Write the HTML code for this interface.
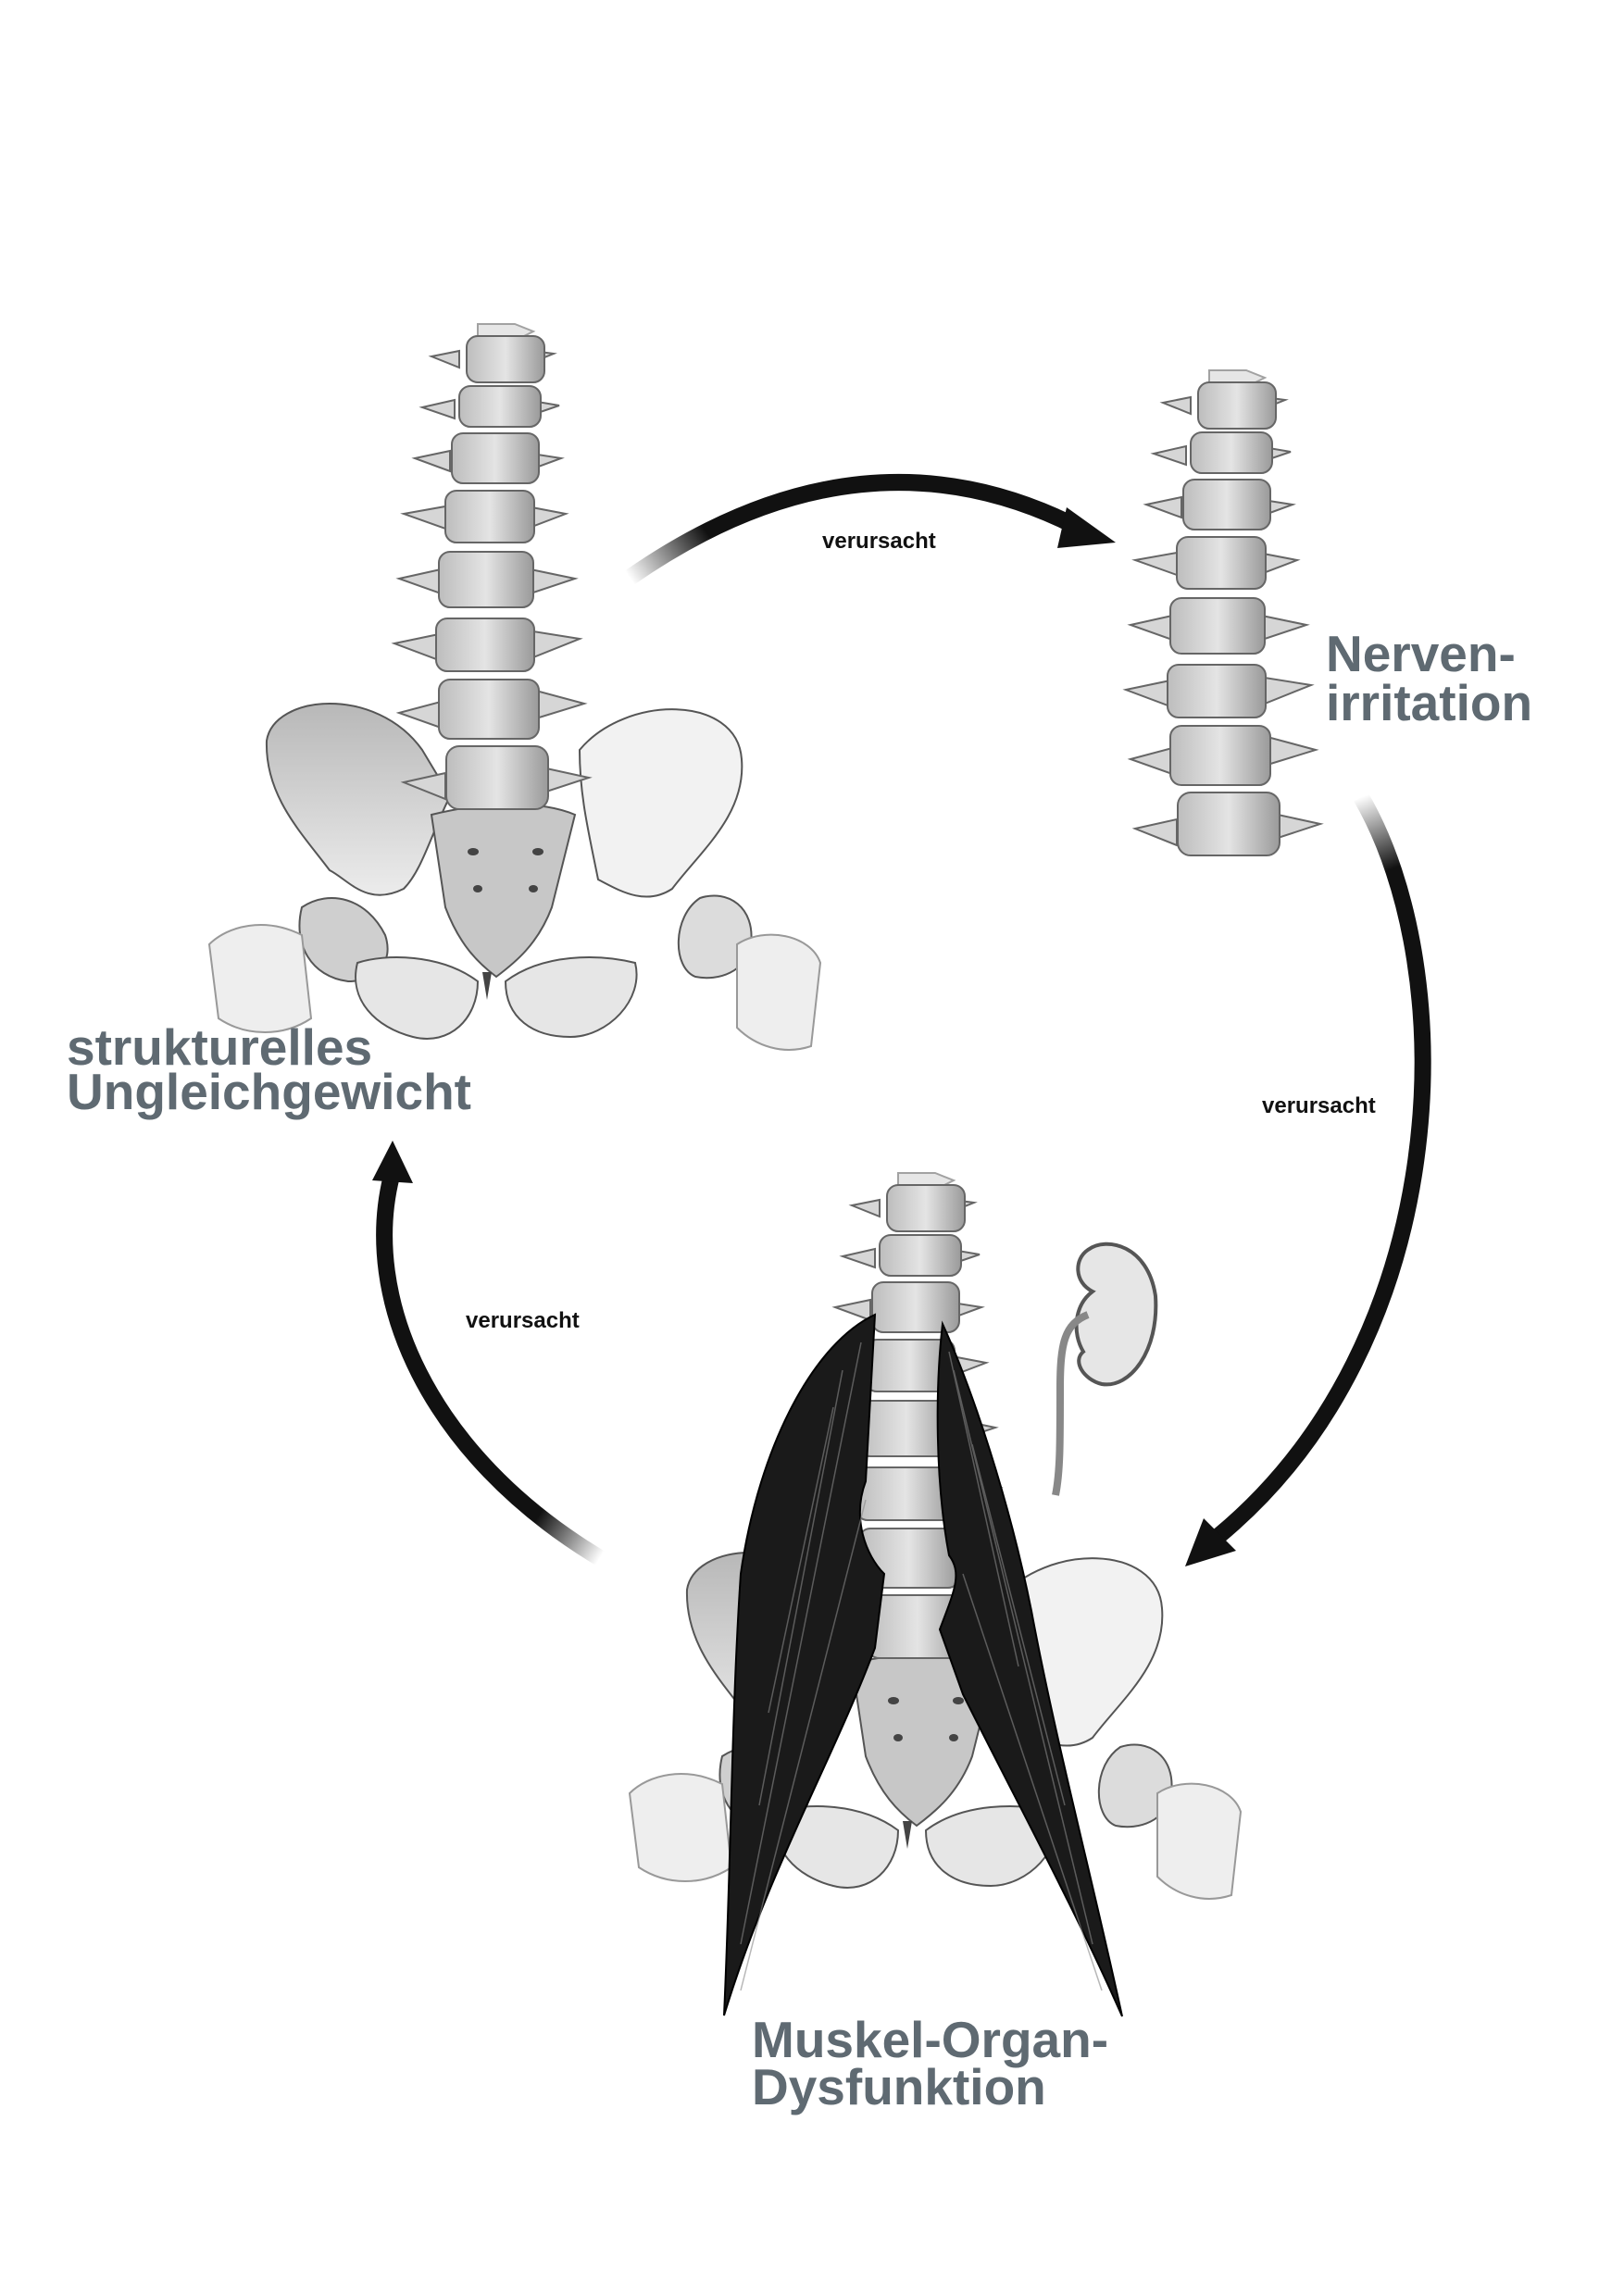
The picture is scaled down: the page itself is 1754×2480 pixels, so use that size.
<!DOCTYPE html>
<html><head><meta charset="utf-8"><style>
html,body{margin:0;padding:0;background:#fff}
svg{display:block}
.t{font-family:"Liberation Sans",sans-serif;font-weight:bold;fill:#5f6a72;font-size:55px}
.s{font-family:"Liberation Sans",sans-serif;font-weight:bold;fill:#111;font-size:24px}
</style></head><body>
<svg width="1754" height="2480" viewBox="0 0 1754 2480" xmlns="http://www.w3.org/2000/svg">
<defs>
<linearGradient id="vb" x1="0" y1="0" x2="1" y2="0">
<stop offset="0" stop-color="#bdbdbd"/><stop offset=".5" stop-color="#e4e4e4"/><stop offset="1" stop-color="#9a9a9a"/>
</linearGradient>
<linearGradient id="pb" x1="0" y1="0" x2="0" y2="1">
<stop offset="0" stop-color="#b8b8b8"/><stop offset="1" stop-color="#ececec"/>
</linearGradient>
<g id="spine" stroke="#666" stroke-width="2">
<g fill="#d6d6d6">
<path d="M-10,10 h40 l20,8 -20,10 h-40z" opacity=".6"/>
<path d="M-60,45 l30,-6 v18z M72,42 l-30,-4 v16z"/>
<path d="M-70,100 l35,-8 v20z M78,98 l-35,-6 v18z"/>
<path d="M-78,155 l38,-8 v22z M80,155 l-38,-6 v20z"/>
<path d="M-90,215 l45,-8 v24z M85,215 l-42,-8 v24z"/>
<path d="M-95,285 l45,-10 v26z M95,285 l-48,-10 v26z"/>
<path d="M-100,355 l48,-10 v28z M100,350 l-50,-8 v28z"/>
<path d="M-95,430 l45,-12 v28z M105,420 l-52,-14 v30z"/>
<path d="M-90,505 l45,-10 v28z M110,500 l-55,-12 v30z"/>
</g>
<g fill="url(#vb)">
<rect x="-22" y="23" width="84" height="50" rx="12"/>
<rect x="-30" y="77" width="88" height="44" rx="12"/>
<rect x="-38" y="128" width="94" height="54" rx="12"/>
<rect x="-45" y="190" width="96" height="56" rx="12"/>
<rect x="-52" y="256" width="102" height="60" rx="12"/>
<rect x="-55" y="328" width="106" height="57" rx="12"/>
<rect x="-52" y="394" width="108" height="64" rx="12"/>
<rect x="-44" y="466" width="110" height="68" rx="14"/>
</g>
</g>
<g id="pelvis" stroke="#555" stroke-width="2">
<path d="M-238,460 C-230,410 -120,400 -70,470 L-40,520 C-60,560 -70,600 -90,620 C-130,640 -150,610 -170,600 C-200,560 -240,520 -238,460Z" fill="url(#pb)"/>
<path d="M100,470 C150,410 270,410 275,480 C280,540 230,580 200,620 C170,640 140,620 120,610 C110,560 100,520 100,470Z" fill="#f2f2f2"/>
<path d="M-60,540 C0,525 60,525 95,540 L70,640 C55,680 30,700 10,715 C-10,700 -30,680 -45,640Z" fill="#c7c7c7"/>
<path d="M-200,640 C-170,620 -130,630 -110,670 C-100,700 -120,720 -150,720 C-190,715 -210,680 -200,640Z" fill="#cfcfcf"/>
<path d="M230,630 C260,620 290,640 285,680 C280,710 250,720 225,715 C200,705 200,650 230,630Z" fill="#dcdcdc"/>
<path d="M-140,700 C-110,690 -50,690 -10,720 C-10,760 -40,790 -80,780 C-120,770 -150,740 -140,700Z" fill="#e6e6e6"/>
<path d="M20,720 C60,690 120,690 160,700 C170,740 130,780 90,780 C50,780 20,760 20,720Z" fill="#e6e6e6"/>
<path d="M-300,680 C-280,660 -240,650 -200,670 L-190,760 C-220,780 -260,780 -290,760Z" fill="#eee" stroke="#999"/>
<path d="M270,680 C300,660 350,670 360,700 L350,790 C320,800 290,790 270,770Z" fill="#eee" stroke="#999"/>
<g fill="#444" stroke="none">
<ellipse cx="-15" cy="580" rx="6" ry="4"/><ellipse cx="55" cy="580" rx="6" ry="4"/>
<ellipse cx="-10" cy="620" rx="5" ry="4"/><ellipse cx="50" cy="620" rx="5" ry="4"/>
<path d="M-5,710 l10,0 -5,30z"/>
</g>
</g>
</defs>

<g transform="translate(526,340)">
<use href="#pelvis"/>
<use href="#spine"/>
</g>
<g transform="translate(1316,390)">
<use href="#spine"/>
</g>
<g transform="translate(980,1257)">
<use href="#pelvis"/>
<use href="#spine"/>
</g>

<path d="M945,1420 C880,1450 820,1560 800,1700 C790,1850 790,2000 782,2177 C830,2020 900,1900 945,1780 L955,1700 C935,1680 920,1640 935,1600 Z" fill="#1a1a1a" stroke="#000" stroke-width="2"/>
<path d="M1018,1430 C1050,1500 1090,1620 1114,1740 C1140,1880 1180,2030 1212,2178 C1160,2060 1100,1950 1040,1830 L1015,1760 C1030,1720 1040,1700 1025,1680 C1010,1600 1010,1500 1018,1430Z" fill="#1a1a1a" stroke="#000" stroke-width="2"/>
<g stroke="#888" stroke-width="1.5" opacity=".6" fill="none">
<path d="M930,1450 L800,2100"/><path d="M910,1480 L820,1950"/><path d="M900,1520 L830,1850"/><path d="M935,1620 L800,2150"/>
<path d="M1030,1480 L1180,2100"/><path d="M1050,1560 L1150,1950"/><path d="M1040,1700 L1190,2150"/><path d="M1025,1460 L1100,1800"/>
</g>

<path d="M1175,1350 C1195,1335 1240,1345 1248,1400 C1252,1460 1220,1500 1190,1495 C1170,1490 1158,1470 1170,1460 C1158,1440 1160,1410 1180,1395 C1160,1385 1160,1360 1175,1350Z" fill="#e6e6e6" stroke="#555" stroke-width="4"/>
<path d="M1175,1420 C1150,1430 1145,1450 1145,1500 C1145,1560 1145,1590 1140,1615" fill="none" stroke="#888" stroke-width="8"/>

<defs>
<linearGradient id="g1" gradientUnits="userSpaceOnUse" x1="680" y1="624" x2="760" y2="570"><stop offset="0" stop-color="#fff"/><stop offset="1" stop-color="#111"/></linearGradient>
<linearGradient id="g2" gradientUnits="userSpaceOnUse" x1="1470" y1="861" x2="1500" y2="940"><stop offset="0" stop-color="#fff"/><stop offset="1" stop-color="#111"/></linearGradient>
<linearGradient id="g3" gradientUnits="userSpaceOnUse" x1="648" y1="1683" x2="580" y2="1640"><stop offset="0" stop-color="#fff"/><stop offset="1" stop-color="#111"/></linearGradient>
</defs>
<path d="M680,624 Q930,450 1165,570" fill="none" stroke="url(#g1)" stroke-width="18"/>
<polygon points="1205,586 1152,548 1142,592" fill="#111"/>
<path d="M1470,861 C1580,1050 1570,1450 1315,1660" fill="none" stroke="url(#g2)" stroke-width="18"/>
<polygon points="1280,1692 1300,1640 1335,1675" fill="#111"/>
<path d="M648,1683 C460,1570 390,1400 423,1270" fill="none" stroke="url(#g3)" stroke-width="18"/>
<polygon points="424,1232 402,1275 446,1278" fill="#111"/>

<text class="s" x="888" y="592">verursacht</text>
<text class="s" x="1363" y="1202">verursacht</text>
<text class="s" x="503" y="1434">verursacht</text>

<text class="t" x="72" y="1150">strukturelles</text>
<text class="t" x="72" y="1198">Ungleichgewicht</text>
<text class="t" x="1432" y="725">Nerven-</text>
<text class="t" x="1432" y="778">irritation</text>
<text class="t" x="812" y="2222">Muskel-Organ-</text>
<text class="t" x="812" y="2273">Dysfunktion</text>
</svg>
</body></html>
